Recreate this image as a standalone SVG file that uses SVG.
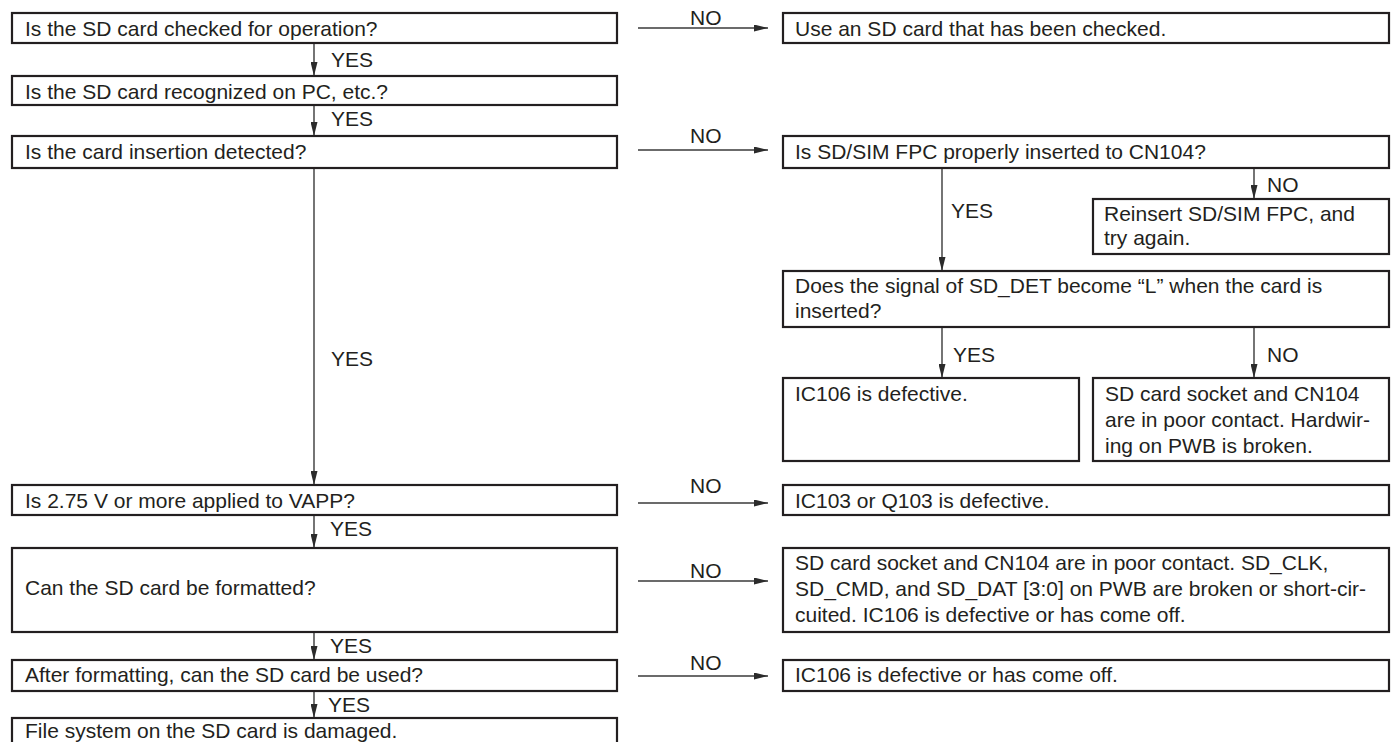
<svg xmlns="http://www.w3.org/2000/svg" width="1395" height="742" viewBox="0 0 1395 742">
<defs>
<marker id="ah" markerUnits="userSpaceOnUse" markerWidth="14" markerHeight="7" refX="14" refY="3.5" orient="auto">
<path d="M0,0 L14,3.5 L0,7 z" fill="#2b2b2b"/>
</marker>
<style>
.box{fill:#fff;stroke:#231f20;stroke-width:2.2}
.t{font-family:"Liberation Sans",Arial,sans-serif;font-size:21px;fill:#231f20}
.c{stroke:#3a3a3a;stroke-width:1.4;fill:none;marker-end:url(#ah)}
</style>
</defs>
<rect width="1395" height="742" fill="#fff"/>
<g id="connectors">
<line class="c" x1="638" y1="28" x2="768" y2="28"/>
<line class="c" x1="314" y1="43" x2="314" y2="76"/>
<line class="c" x1="314" y1="105" x2="314" y2="136"/>
<line class="c" x1="638" y1="150" x2="768" y2="150"/>
<line class="c" x1="942" y1="168" x2="942" y2="271"/>
<line class="c" x1="1254" y1="168" x2="1254" y2="199"/>
<line class="c" x1="942" y1="327" x2="942" y2="378"/>
<line class="c" x1="1254" y1="327" x2="1254" y2="378"/>
<line class="c" x1="314" y1="168" x2="314" y2="485"/>
<line class="c" x1="638" y1="503" x2="768" y2="503"/>
<line class="c" x1="314" y1="515" x2="314" y2="548"/>
<line class="c" x1="638" y1="581" x2="768" y2="581"/>
<line class="c" x1="314" y1="632" x2="314" y2="660"/>
<line class="c" x1="638" y1="676" x2="768" y2="676"/>
<line class="c" x1="314" y1="691" x2="314" y2="718"/>
<text class="t" x="690" y="25">NO</text>
<text class="t" x="331" y="67">YES</text>
<text class="t" x="331" y="126">YES</text>
<text class="t" x="690" y="143">NO</text>
<text class="t" x="951" y="218">YES</text>
<text class="t" x="1267" y="192">NO</text>
<text class="t" x="953" y="362">YES</text>
<text class="t" x="1267" y="362">NO</text>
<text class="t" x="331" y="366">YES</text>
<text class="t" x="690" y="493">NO</text>
<text class="t" x="330" y="536">YES</text>
<text class="t" x="690" y="578">NO</text>
<text class="t" x="330" y="653">YES</text>
<text class="t" x="690" y="670">NO</text>
<text class="t" x="328" y="712">YES</text>
</g>
<g id="n1"><rect class="box" x="12" y="13" width="605" height="30"/><text class="t" x="25" y="36">Is the SD card checked for operation?</text></g>
<g id="n1no"><rect class="box" x="783" y="13" width="606" height="30"/><text class="t" x="795" y="36">Use an SD card that has been checked.</text></g>
<g id="n2"><rect class="box" x="12" y="76" width="605" height="29"/><text class="t" x="25" y="99">Is the SD card recognized on PC, etc.?</text></g>
<g id="n3"><rect class="box" x="12" y="136" width="605" height="32"/><text class="t" x="25" y="159">Is the card insertion detected?</text></g>
<g id="n3no"><rect class="box" x="783" y="136" width="606" height="32"/><text class="t" x="795" y="159">Is SD/SIM FPC properly inserted to CN104?</text></g>
<g id="reinsert"><rect class="box" x="1093" y="199" width="296" height="55"/><text class="t" x="1104" y="221">Reinsert SD/SIM FPC, and</text><text class="t" x="1104" y="245">try again.</text></g>
<g id="sddet"><rect class="box" x="783" y="271" width="606" height="56"/><text class="t" x="795" y="293">Does the signal of SD_DET become “L” when the card is</text><text class="t" x="795" y="318">inserted?</text></g>
<g id="ic106a"><rect class="box" x="783" y="378" width="296" height="83"/><text class="t" x="795" y="401">IC106 is defective.</text></g>
<g id="socket"><rect class="box" x="1093" y="378" width="296" height="83"/><text class="t" x="1105" y="401">SD card socket and CN104</text><text class="t" x="1105" y="427">are in poor contact. Hardwir-</text><text class="t" x="1105" y="453">ing on PWB is broken.</text></g>
<g id="vapp"><rect class="box" x="12" y="485" width="605" height="30"/><text class="t" x="25" y="508">Is 2.75 V or more applied to VAPP?</text></g>
<g id="ic103"><rect class="box" x="783" y="485" width="606" height="30"/><text class="t" x="795" y="508">IC103 or Q103 is defective.</text></g>
<g id="format"><rect class="box" x="12" y="548" width="605" height="84"/><text class="t" x="25" y="595">Can the SD card be formatted?</text></g>
<g id="formatno"><rect class="box" x="783" y="548" width="606" height="84"/><text class="t" x="795" y="570">SD card socket and CN104 are in poor contact. SD_CLK,</text><text class="t" x="795" y="596">SD_CMD, and SD_DAT [3:0] on PWB are broken or short-cir-</text><text class="t" x="795" y="622">cuited. IC106 is defective or has come off.</text></g>
<g id="after"><rect class="box" x="12" y="660" width="605" height="31"/><text class="t" x="25" y="682">After formatting, can the SD card be used?</text></g>
<g id="afterno"><rect class="box" x="783" y="660" width="606" height="31"/><text class="t" x="795" y="682">IC106 is defective or has come off.</text></g>
<g id="filesys"><rect class="box" x="12" y="718" width="605" height="34"/><text class="t" x="25" y="738">File system on the SD card is damaged.</text></g>
</svg>
